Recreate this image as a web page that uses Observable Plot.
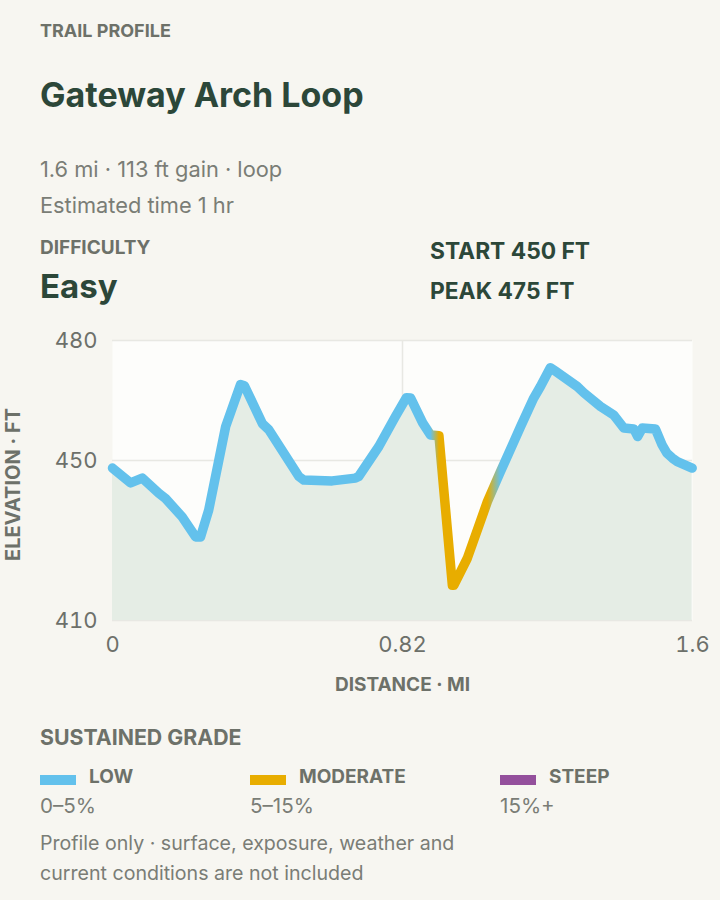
<!DOCTYPE html>
<html><head><meta charset="utf-8">
<script src="https://cdn.jsdelivr.net/npm/d3@7"></script>
<script src="https://cdn.jsdelivr.net/npm/@observablehq/plot@0.6"></script>
<style>
html,body{margin:0;padding:0;background:#f7f6f1;}
body{width:720px;height:900px;position:relative;font-family:Inter,"Noto Sans",sans-serif;overflow:hidden;}
.abs{position:absolute;white-space:nowrap;line-height:1;}
.kicker{font-size:18px;font-weight:700;color:#6d7169;}
.title{font-size:34px;font-weight:700;color:#2c4739;}
.meta{font-size:21.8px;font-weight:400;color:#7a7d76;}
.lab{font-size:19px;font-weight:700;color:#6d7169;}
.stat{font-size:22.8px;font-weight:700;color:#2c4739;}
#chart{position:absolute;left:0;top:300px;}
.legend{position:absolute;left:40px;top:767px;}
.item{position:absolute;top:0;}
.sw{position:absolute;left:0;top:8px;width:36px;height:10px;}
.iname{position:absolute;left:49px;top:0;font-size:19px;font-weight:700;color:#6d7169;line-height:1;white-space:nowrap;}
.irange{position:absolute;left:0;top:29px;font-size:20.6px;color:#7a7d76;line-height:1;white-space:nowrap;}
.foot{position:absolute;left:40px;top:828px;font-size:19.6px;line-height:30px;color:#7a7d76;}
</style></head><body>
<div class="abs kicker" style="left:40px;top:21.5px">TRAIL PROFILE</div>
<div class="abs title" style="left:40px;top:78px">Gateway Arch Loop</div>
<div class="abs meta" style="left:40px;top:159px">1.6 mi · 113 ft gain · loop</div>
<div class="abs meta" style="left:40px;top:195px">Estimated time 1 hr</div>
<div class="abs lab" style="left:40px;top:238px">DIFFICULTY</div>
<div class="abs title" style="left:40px;top:270px;font-size:33px">Easy</div>
<div class="abs stat" style="left:430px;top:240px">START 450 FT</div>
<div class="abs stat" style="left:430px;top:280px">PEAK 475 FT</div>
<div id="chart"></div>
<div class="abs kicker" style="left:40px;top:727px;font-size:21.3px">SUSTAINED GRADE</div>
<div class="legend" id="legend"></div>
<div class="foot">Profile only · surface, exposure, weather and<br>current conditions are not included</div>
<script>
// ---- data ----
const distMi = [0.000,0.051,0.084,0.131,0.150,0.197,0.235,0.249,0.272,0.320,0.362,0.373,0.424,0.442,0.527,0.541,0.621,0.687,0.696,0.753,0.800,0.831,0.843,0.877,0.899,0.923,0.961,0.965,1.003,1.060,1.097,1.154,1.191,1.210,1.238,1.253,1.314,1.333,1.380,1.417,1.446,1.474,1.485,1.498,1.535,1.554,1.568,1.583,1.597,1.639];
const elevFt = [448.1,444.4,445.6,441.8,440.5,435.9,430.9,430.9,437.6,458.5,469.0,468.7,459.2,457.7,446.0,445.1,444.9,445.6,446.0,453.5,461.0,465.7,465.6,459.4,456.4,456.2,418.8,418.8,425.5,439.7,447.2,458.5,465.6,468.5,473.2,472.3,468.5,466.9,463.5,461.4,458.1,457.9,456.0,458.1,457.9,453.9,451.8,450.6,449.7,448.1];
const gradeAt = ["low","low","low","low","low","low","low","low","low","low","low","low","low","low","low","low","low","low","low","low","low","low","low","low","low","moderate","moderate","moderate","moderate","moderate","low","low","low","low","low","low","low","low","low","low","low","low","low","low","low","low","low","low","low","low"];
const gradeKeys = ["low","moderate","steep"];
const gradeNames = ["LOW","MODERATE","STEEP"];
const gradeRanges = ["0–5%","5–15%","15%+"];
const gradeColors = ["#63c1ec","#e8ad00","#94509c"];
const xTicks = [0, 0.82, 1.64];
const xTickLabels = ["0","0.82","1.6"];
const yTicks = [410, 450, 480];
const xDomain = [0, 1.64];
const yDomain = [410, 480];

const rows = distMi.map((d,i) => ({dist:d, elev:elevFt[i], grade:gradeAt[i]}));
const colorOf = g => gradeColors[gradeKeys.indexOf(g)];

const dMin = d3.min(distMi), dMax = d3.max(distMi);
const gradDefs = () => {
  const defs = d3.create("svg:defs");
  const lg = defs.append("linearGradient").attr("id","gradeGrad")
    .attr("x1","0").attr("x2","1").attr("y1","0").attr("y2","0");
  rows.forEach(r => lg.append("stop").attr("offset", (r.dist-dMin)/(dMax-dMin)).attr("stop-color", colorOf(r.grade)));
  return defs.node();
};

const chart = Plot.plot({
  width: 720, height: 400,
  marginLeft: 112, marginRight: 28, marginTop: 40, marginBottom: 80,
  style: {fontFamily: "Inter, 'Noto Sans', sans-serif", color: "#6d706a", background: "transparent", overflow: "visible"},
  x: {domain: xDomain},
  y: {domain: yDomain},
  marks: [
    gradDefs,
    Plot.frame({fill: "#fdfdfb", stroke: null}),
    Plot.gridY(yTicks, {stroke: "#e8e8e3", strokeOpacity: 1, strokeWidth: 1.5}),
    Plot.gridX([xTicks[1]], {stroke: "#e8e8e3", strokeOpacity: 1, strokeWidth: 1.5}),
    Plot.areaY(rows, {x: "dist", y1: yDomain[0], y2: "elev", fill: "#e5ede5"}),
    Plot.line(rows, {x: "dist", y: "elev", stroke: "url(#gradeGrad)", strokeWidth: 9.5, strokeLinejoin: "round", strokeLinecap: "round"}),
    Plot.axisY(yTicks, {tickSize: 0, tickPadding: 15, fontSize: 22, label: null}),
    Plot.axisX(xTicks, {tickSize: 0, tickPadding: 16, fontSize: 22, label: null, tickFormat: d => xTickLabels[xTicks.indexOf(d)]}),
    Plot.text(["DISTANCE · MI"], {frameAnchor: "bottom", textAnchor: "middle", dy: 64, lineAnchor: "middle", fontSize: 19, fontWeight: 700, fill: "#6d7169"}),
    Plot.text(["ELEVATION · FT"], {frameAnchor: "left", textAnchor: "middle", dx: -99, dy: 4, rotate: -90, lineAnchor: "middle", fontSize: 20, fontWeight: 700, fill: "#6d7169"})
  ]
});
document.getElementById("chart").appendChild(chart);

const leg = document.getElementById("legend");
const lefts = [0, 210, 460];
gradeNames.forEach((n,i) => {
  const it = document.createElement("div");
  it.className = "item"; it.style.left = lefts[i] + "px";
  it.innerHTML = `<div class="sw" style="background:${gradeColors[i]}"></div><div class="iname">${n}</div><div class="irange">${gradeRanges[i]}</div>`;
  leg.appendChild(it);
});
</script>
</body></html>
